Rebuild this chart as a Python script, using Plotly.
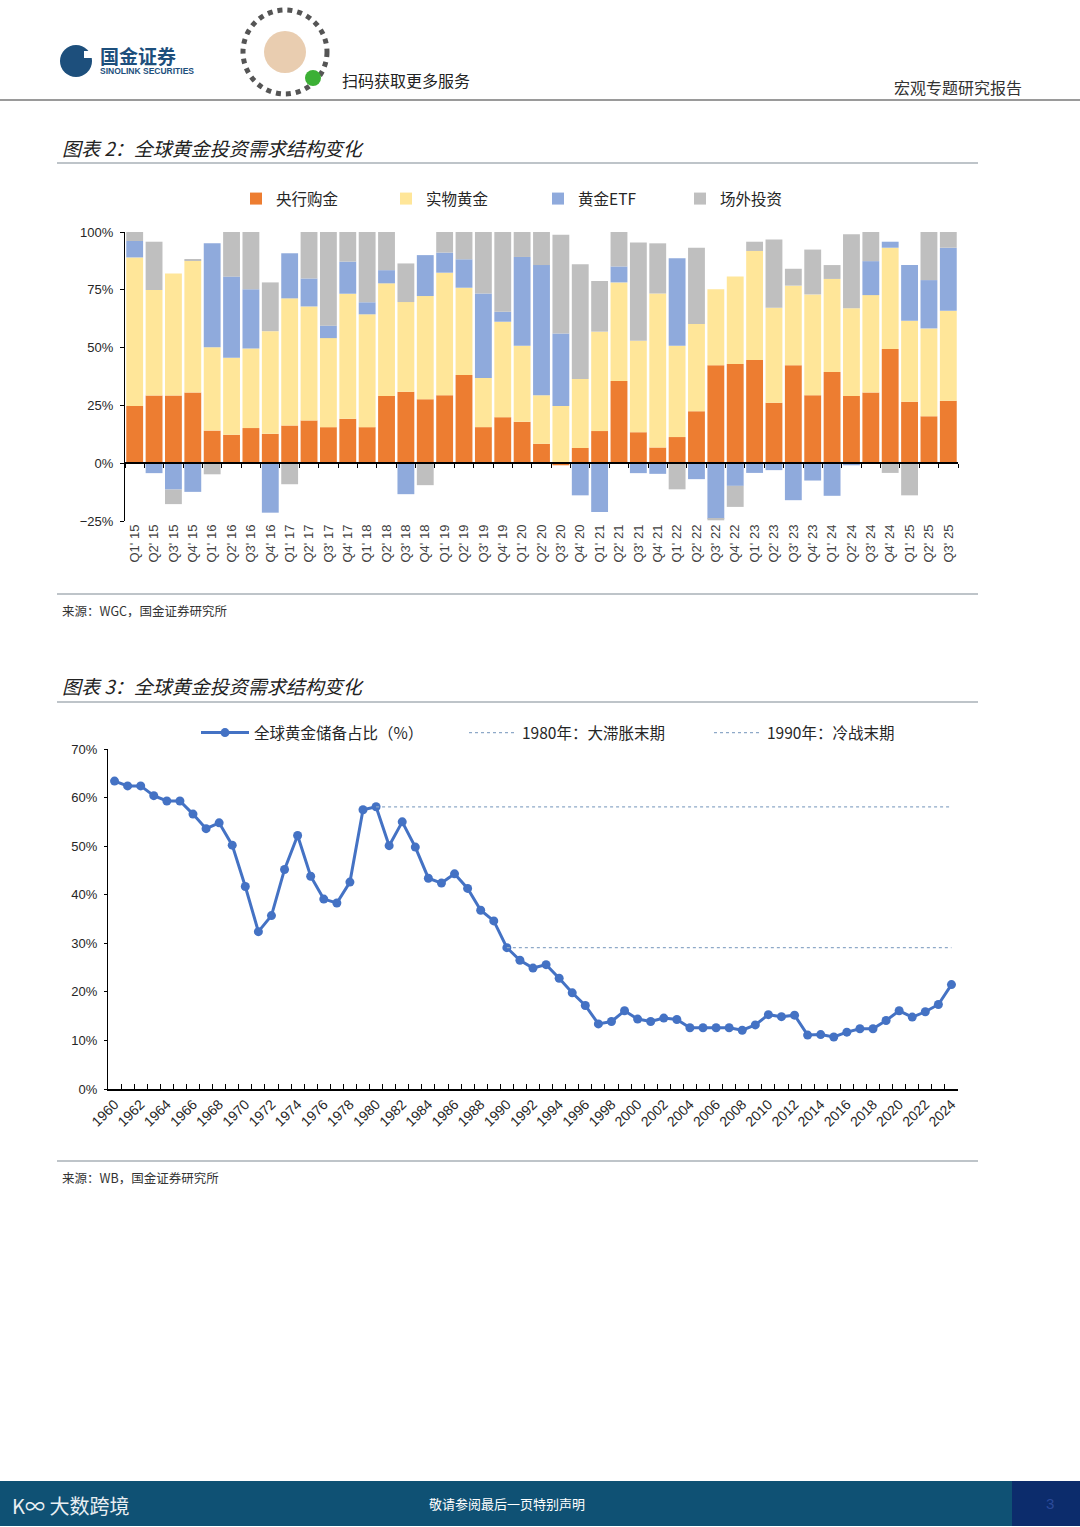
import plotly.graph_objects as go

# ---------------- data: chart 2 (stacked bars, % of investment demand) ----------------
quarters = ["Q1' 15", "Q2' 15", "Q3' 15", "Q4' 15",
            "Q1' 16", "Q2' 16", "Q3' 16", "Q4' 16",
            "Q1' 17", "Q2' 17", "Q3' 17", "Q4' 17",
            "Q1' 18", "Q2' 18", "Q3' 18", "Q4' 18",
            "Q1' 19", "Q2' 19", "Q3' 19", "Q4' 19",
            "Q1' 20", "Q2' 20", "Q3' 20", "Q4' 20",
            "Q1' 21", "Q2' 21", "Q3' 21", "Q4' 21",
            "Q1' 22", "Q2' 22", "Q3' 22", "Q4' 22",
            "Q1' 23", "Q2' 23", "Q3' 23", "Q4' 23",
            "Q1' 24", "Q2' 24", "Q3' 24", "Q4' 24",
            "Q1' 25", "Q2' 25", "Q3' 25"]

central_bank = [24.7, 29.3, 29.3, 30.6, 14.1, 12.3, 15.2, 12.7, 16.3, 18.5, 15.6, 19.2,
                15.6, 29.1, 30.9, 27.7, 29.4, 38.2, 15.6, 19.9, 17.9, 8.4, -0.9, 6.6,
                13.9, 35.5, 13.4, 6.8, 11.3, 22.5, 42.4, 42.9, 44.6, 26.1, 42.4, 29.4,
                39.5, 29.1, 30.6, 49.4, 26.6, 20.3, 27.0]
physical = [64.3, 45.6, 52.8, 57.0, 36.0, 33.3, 34.4, 44.4, 55.0, 49.3, 38.5, 54.1,
            48.8, 48.7, 38.8, 44.6, 53.0, 37.7, 21.3, 41.3, 32.9, 21.0, 24.7, 29.8,
            43.0, 42.7, 39.6, 66.6, 39.5, 37.7, 32.8, 37.8, 47.2, 41.1, 34.4, 43.6,
            40.2, 37.9, 42.1, 43.8, 35.0, 38.0, 38.9]
etf = [7.1, -4.3, -11.4, -12.4, 45.0, 35.1, 25.6, -21.4, 19.5, 12.1, 5.4, 13.9,
       5.2, 5.7, -13.4, 17.7, 8.7, 12.3, 36.5, 4.3, 38.4, 56.3, 31.4, -13.9,
       -21.1, 6.9, -4.3, -4.6, 37.8, -6.9, -24.0, -9.8, -4.2, -3.0, -16.0, -7.5,
       -14.1, -0.9, 14.7, 2.6, 24.1, 20.9, 27.3]
otc = [3.9, 20.9, -6.3, 0.5, -4.8, 19.3, 24.8, 21.1, -9.1, 20.1, 40.5, 12.8,
       30.4, 16.5, 16.7, -9.5, 8.9, 11.8, 26.6, 34.5, 10.8, 14.3, 42.7, 49.7,
       21.9, 14.9, 42.5, 21.7, -11.3, 33.0, -0.7, -9.1, 4.0, 29.6, 7.3, 19.4,
       6.0, 32.0, 12.6, -4.2, -13.9, 20.8, 6.8]

bar_names = ["央行购金", "实物黄金", "黄金ETF", "场外投资"]
bar_ticks = [-25, 0, 25, 50, 75, 100]
bar_ticktext = ["−25%", "0%", "25%", "50%", "75%", "100%"]

# ---------------- data: chart 3 (line, global gold reserve share %) ----------------
years = [str(y) for y in range(1960, 2025)]
gold_share = [63.4, 62.4, 62.4, 60.4, 59.3, 59.3, 56.6, 53.6, 54.8, 50.2,
              41.7, 32.4, 35.7, 45.2, 52.2, 43.8, 39.1, 38.3, 42.6, 57.5,
              58.1, 50.1, 55.0, 49.8, 43.4, 42.4, 44.3, 41.3, 36.8, 34.6,
              29.1, 26.5, 24.9, 25.6, 22.8, 19.8, 17.2, 13.4, 13.9, 16.1,
              14.4, 13.9, 14.6, 14.3, 12.6, 12.6, 12.6, 12.6, 12.1, 13.2,
              15.3, 14.9, 15.2, 11.1, 11.2, 10.7, 11.7, 12.4, 12.4, 14.1,
              16.1, 14.8, 15.9, 17.4, 21.5]
line_names = ["全球黄金储备占比（%）", "1980年：大滞胀末期", "1990年：冷战末期"]
ref_years = ["1980", "1990"]
line_ticks = [0, 10, 20, 30, 40, 50, 60, 70]
line_ticktext = ["0%", "10%", "20%", "30%", "40%", "50%", "60%", "70%"]
year_ticktext = [y if int(y) % 2 == 0 else "" for y in years]

# ---------------- page geometry helpers ----------------
W, H = 1080, 1527
def px(x):
    return x / W
def py(y):
    return 1 - y / H

FONT = "Arial, 'Liberation Sans', 'Noto Sans CJK SC', sans-serif"
CJK = "'Noto Sans CJK SC', 'Noto Sans CJK JP', sans-serif"

fig = go.Figure()

colors = ["#ED7D31", "#FFE699", "#8FAADC", "#BFBFBF"]
series = [central_bank, physical, etf, otc]
legend_ids = ["legend", "legend2", "legend3", "legend4"]
for name, vals, col, lg in zip(bar_names, series, colors, legend_ids):
    fig.add_trace(go.Bar(x=quarters, y=vals, name=name, marker=dict(color=col, line=dict(width=0)),
                         xaxis="x", yaxis="y", legend=lg, hoverinfo="skip"))

# invisible trace carrying the zero-line axis with boundary ticks
fig.add_trace(go.Scatter(x=quarters, y=[0] * len(quarters), mode="lines",
                         line=dict(width=0, color="rgba(0,0,0,0)"), showlegend=False,
                         xaxis="x3", yaxis="y", hoverinfo="skip"))

# line chart
fig.add_trace(go.Scatter(x=years, y=gold_share, name=line_names[0], mode="lines+markers",
                         line=dict(color="#4472C4", width=3), marker=dict(size=9, color="#4472C4"),
                         xaxis="x2", yaxis="y2", legend="legend5", hoverinfo="skip"))
for ry, nm, lg in zip(ref_years, line_names[1:], ["legend6", "legend7"]):
    i0 = years.index(ry)
    xs = years[i0:]
    fig.add_trace(go.Scatter(x=xs, y=[gold_share[i0]] * len(xs), name=nm, mode="lines",
                             line=dict(color="#8EA9C8", width=1.2, dash="dot"),
                             xaxis="x2", yaxis="y2", legend=lg, hoverinfo="skip"))

axis_font = dict(family=FONT, size=13, color="#262626")

fig.update_layout(
    width=W, height=H, margin=dict(l=0, r=0, t=0, b=0, autoexpand=False),
    paper_bgcolor="white", plot_bgcolor="white",
    barmode="relative", bargap=0.13,
    font=dict(family=FONT, color="#262626"),
    xaxis=dict(domain=[px(125), px(958)], anchor="y", type="category", categoryarray=quarters,
               range=[-0.5, len(quarters) - 0.5], showline=False, ticks="", showgrid=False,
               tickangle=-90, tickfont=dict(family=FONT, size=13, color="#404040"), zeroline=False,
               automargin=False),
    xaxis3=dict(overlaying="x", anchor="free", position=py(463), type="category",
                categoryarray=quarters, range=[-0.5, len(quarters) - 0.5], showline=True,
                linecolor="#000000", linewidth=1.5, ticks="outside", ticklen=4, tickcolor="#000000",
                tickson="boundaries", showticklabels=False, showgrid=False, zeroline=False,
                automargin=False),
    yaxis=dict(domain=[py(521), py(232)], anchor="x", range=[-25, 100], tickvals=bar_ticks,
               ticktext=bar_ticktext, showline=True, linecolor="#000000", linewidth=1.2,
               ticks="outside", ticklen=4, tickcolor="#000000", showgrid=False, zeroline=False,
               tickfont=axis_font, ticklabelstandoff=4, automargin=False),
    xaxis2=dict(domain=[px(108), px(958)], anchor="y2", type="category", categoryarray=years,
                range=[-0.5, len(years) - 0.5], tickvals=years, ticktext=year_ticktext,
                tickangle=-45, tickson="boundaries", ticks="inside", ticklen=5, tickcolor="#000000",
                showline=True, linecolor="#000000", linewidth=1.5, showgrid=False, zeroline=False,
                tickfont=dict(family=FONT, size=14, color="#262626"), automargin=False),
    yaxis2=dict(domain=[py(1089), py(749)], anchor="x2", range=[0, 70], tickvals=line_ticks,
                ticktext=line_ticktext, showline=True, linecolor="#000000", linewidth=1.2,
                ticks="outside", ticklen=3, tickcolor="#000000", showgrid=False, zeroline=False,
                tickfont=axis_font, ticklabelstandoff=4, automargin=False),
)

leg_common = dict(orientation="h", xanchor="left", yanchor="middle", bgcolor="rgba(0,0,0,0)",
                  borderwidth=0, font=dict(family=CJK, size=15.5, color="#262626"))
bar_leg_x = [236, 386, 538, 680]
for lg, xx in zip(legend_ids, bar_leg_x):
    fig.update_layout({lg: dict(x=px(xx), y=py(199), **leg_common)})
line_leg_x = [196, 464, 709]
for lg, xx in zip(["legend5", "legend6", "legend7"], line_leg_x):
    fig.update_layout({lg: dict(x=px(xx), y=py(733), itemwidth=48, **leg_common)})

# ---------------- page decorations ----------------
shapes = []
shapes.append(dict(type="line", xref="paper", yref="paper", x0=0, x1=1, y0=py(100), y1=py(100),
                   line=dict(color="#9a9a9a", width=2)))
for yy in [163, 594, 702, 1161]:
    shapes.append(dict(type="line", xref="paper", yref="paper", x0=px(57), x1=px(978),
                       y0=py(yy), y1=py(yy), line=dict(color="#7f8a93", width=1.2)))
# logo mark
shapes.append(dict(type="circle", xref="paper", yref="paper", x0=px(60), x1=px(92),
                   y0=py(77), y1=py(45), fillcolor="#1d4f7c", line=dict(width=0)))
shapes.append(dict(type="rect", xref="paper", yref="paper", x0=px(84), x1=px(93),
                   y0=py(58), y1=py(51), fillcolor="white", line=dict(width=0)))
# QR placeholder
shapes.append(dict(type="circle", xref="paper", yref="paper", x0=px(243), x1=px(327),
                   y0=py(94), y1=py(10), fillcolor="rgba(0,0,0,0)",
                   line=dict(color="#555555", width=5, dash="dot")))
shapes.append(dict(type="circle", xref="paper", yref="paper", x0=px(264), x1=px(306),
                   y0=py(73), y1=py(31), fillcolor="#e9cdb0", line=dict(width=0)))
shapes.append(dict(type="circle", xref="paper", yref="paper", x0=px(305), x1=px(321),
                   y0=py(86), y1=py(70), fillcolor="#3cb035", line=dict(width=0)))
# footer band
shapes.append(dict(type="rect", xref="paper", yref="paper", x0=0, x1=px(1012),
                   y0=py(1526), y1=py(1481), fillcolor="#0f5174", line=dict(width=0)))
shapes.append(dict(type="rect", xref="paper", yref="paper", x0=px(1012), x1=1,
                   y0=py(1526), y1=py(1481), fillcolor="#0c2c6c", line=dict(width=0)))

ann = []
def text(x, y, s, size, color="#262626", anchor="left", family=CJK, style="normal", weight="normal"):
    ann.append(dict(x=px(x), y=py(y), xref="paper", yref="paper", text=s, showarrow=False,
                    xanchor=anchor, yanchor="middle",
                    font=dict(family=family, size=size, color=color, style=style, weight=weight)))

text(98, 55, "国金证券", 19, "#1d4f7c", weight="bold")
text(98, 71, "SINOLINK SECURITIES", 8.5, "#1d4f7c", family=FONT, weight="bold")
text(340, 80, "扫码获取更多服务", 16, "#222222")
text(1024, 87, "宏观专题研究报告", 16, "#333333", anchor="right")
text(60, 147, "图表 2：全球黄金投资需求结构变化", 19, "#222222", style="italic")
text(60, 610, "来源：WGC，国金证券研究所", 12.5, "#333333")
text(60, 685, "图表 3：全球黄金投资需求结构变化", 19, "#222222", style="italic")
text(60, 1177, "来源：WB，国金证券研究所", 12.5, "#333333")
text(10, 1505, "K∞ 大数跨境", 20, "#e8eef2")
text(507, 1503, "敬请参阅最后一页特别声明", 13, "#ffffff", anchor="center")
text(1050, 1503, "3", 15, "#2b4a9a", anchor="center", family=FONT)

fig.update_layout(shapes=shapes, annotations=ann)

fig.write_html("out.html", config={"displayModeBar": False},
               post_script="document.body.style.margin='0';document.body.style.overflow='hidden';")
